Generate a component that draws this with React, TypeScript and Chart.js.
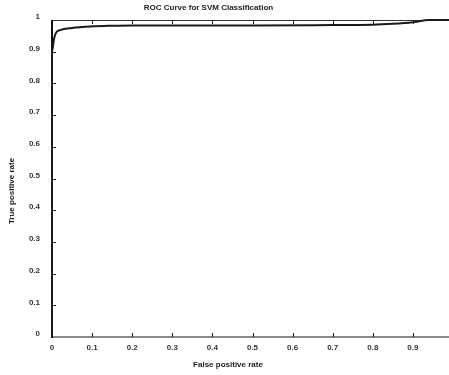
import React, { useEffect, useRef } from "react";
import { Chart, registerables } from "chart.js";

Chart.register(...registerables);

const fpr = [0, 0, 0.005, 0.01, 0.02, 0.05, 0.1, 0.15, 0.2, 0.3, 0.5, 0.7, 0.8, 0.85, 0.9, 0.94, 0.99];
const tpr = [0, 0.9, 0.94, 0.96, 0.968, 0.975, 0.98, 0.982, 0.983, 0.983, 0.983, 0.984, 0.985, 0.988, 0.993, 1.0, 1.0];
const xTicks = [0, 0.1, 0.2, 0.3, 0.4, 0.5, 0.6, 0.7, 0.8, 0.9];
const yTicks = [0, 0.1, 0.2, 0.3, 0.4, 0.5, 0.6, 0.7, 0.8, 0.9, 1];
const titleText = "ROC Curve for SVM Classification";
const xTitle = "False positive rate";
const yTitle = "True positive rate";

const FONT = "Liberation Sans, Arial, sans-serif";

const framePlugin = {
  id: "frame",
  beforeDatasetsDraw(chart: any) {
    const { ctx, chartArea, scales } = chart;
    const x = scales.x, y = scales.y;
    ctx.save();
    // top border
    ctx.strokeStyle = "#333";
    ctx.lineWidth = 1;
    ctx.beginPath();
    ctx.moveTo(chartArea.left, chartArea.top + 0.5);
    ctx.lineTo(chartArea.right, chartArea.top + 0.5);
    ctx.stroke();
    // bottom axis gray
    ctx.strokeStyle = "#8a8a8a";
    ctx.lineWidth = 2;
    ctx.beginPath();
    ctx.moveTo(chartArea.left, chartArea.bottom);
    ctx.lineTo(chartArea.right, chartArea.bottom);
    ctx.stroke();
    // ticks
    ctx.strokeStyle = "#222";
    ctx.lineWidth = 1;
    for (const v of xTicks) {
      if (v === 0) continue;
      const px = Math.round(x.getPixelForValue(v)) + 0.5;
      ctx.beginPath();
      ctx.moveTo(px, chartArea.bottom);
      ctx.lineTo(px, chartArea.bottom - 4);
      ctx.moveTo(px, chartArea.top);
      ctx.lineTo(px, chartArea.top + 4);
      ctx.stroke();
    }
    for (const v of yTicks) {
      if (v === 0 || v === 1) continue;
      const py = Math.round(y.getPixelForValue(v)) + 0.5;
      ctx.beginPath();
      ctx.moveTo(chartArea.left, py);
      ctx.lineTo(chartArea.left + 4, py);
      ctx.stroke();
    }
    // left axis black
    ctx.strokeStyle = "#111";
    ctx.lineWidth = 2;
    ctx.beginPath();
    ctx.moveTo(chartArea.left, chartArea.top);
    ctx.lineTo(chartArea.left, chartArea.bottom + 1);
    ctx.stroke();
    ctx.restore();
  },
  afterDraw(chart: any) {
    const { ctx, chartArea } = chart;
    ctx.save();
    ctx.fillStyle = "#222";
    ctx.font = "bold 8px " + FONT;
    ctx.textAlign = "center";
    ctx.textBaseline = "middle";
    ctx.fillText(titleText, 208.5, 8);
    ctx.fillText(xTitle, 228, 365);
    ctx.translate(12, 191);
    ctx.rotate(-Math.PI / 2);
    ctx.fillText(yTitle, 0, 0);
    ctx.restore();
  },
};

export default function App() {
  const ref = useRef<HTMLCanvasElement | null>(null);
  useEffect(() => {
    document.body.style.margin = "0";
    const canvas = ref.current!;
    const chart = new Chart(canvas, {
      type: "line",
      data: {
        datasets: [
          {
            data: fpr.map((v, i) => ({ x: v, y: tpr[i] })),
            borderColor: "#1a1a1a",
            borderWidth: 2,
            pointRadius: 0,
            tension: 0.3,
            cubicInterpolationMode: "monotone",
            fill: false,
            clip: false as any,
          },
        ],
      },
      options: {
        animation: false,
        responsive: false,
        devicePixelRatio: 1,
        layout: { padding: { top: 20, right: 0, left: 0, bottom: 0 } },
        plugins: { legend: { display: false }, tooltip: { enabled: false }, title: { display: false } },
        scales: {
          x: {
            type: "linear",
            min: 0,
            max: 0.99,
            border: { display: false },
            grid: { display: false, drawTicks: false },
            afterBuildTicks: (s: any) => {
              s.ticks = xTicks.map((v) => ({ value: v }));
            },
            afterFit: (s: any) => {
              s.height = 38;
            },
            ticks: {
              autoSkip: false,
              maxRotation: 0,
              padding: 6,
              color: "#333",
              font: { family: FONT, size: 8, weight: "bold" },
              callback: (v: any) => String(v),
            },
          },
          y: {
            type: "linear",
            min: 0,
            max: 1,
            border: { display: false },
            grid: { display: false, drawTicks: false },
            afterBuildTicks: (s: any) => {
              s.ticks = yTicks.map((v) => ({ value: v }));
            },
            afterFit: (s: any) => {
              s.width = 52;
            },
            ticks: {
              autoSkip: false,
              padding: 12,
              labelOffset: -3,
              color: "#333",
              font: { family: FONT, size: 8, weight: "bold" },
              callback: (v: any) => String(v),
            },
          },
        },
      } as any,
      plugins: [framePlugin],
    });
    return () => chart.destroy();
  }, []);
  return <canvas ref={ref} width={449} height={375} style={{ display: "block" }} />;
}
